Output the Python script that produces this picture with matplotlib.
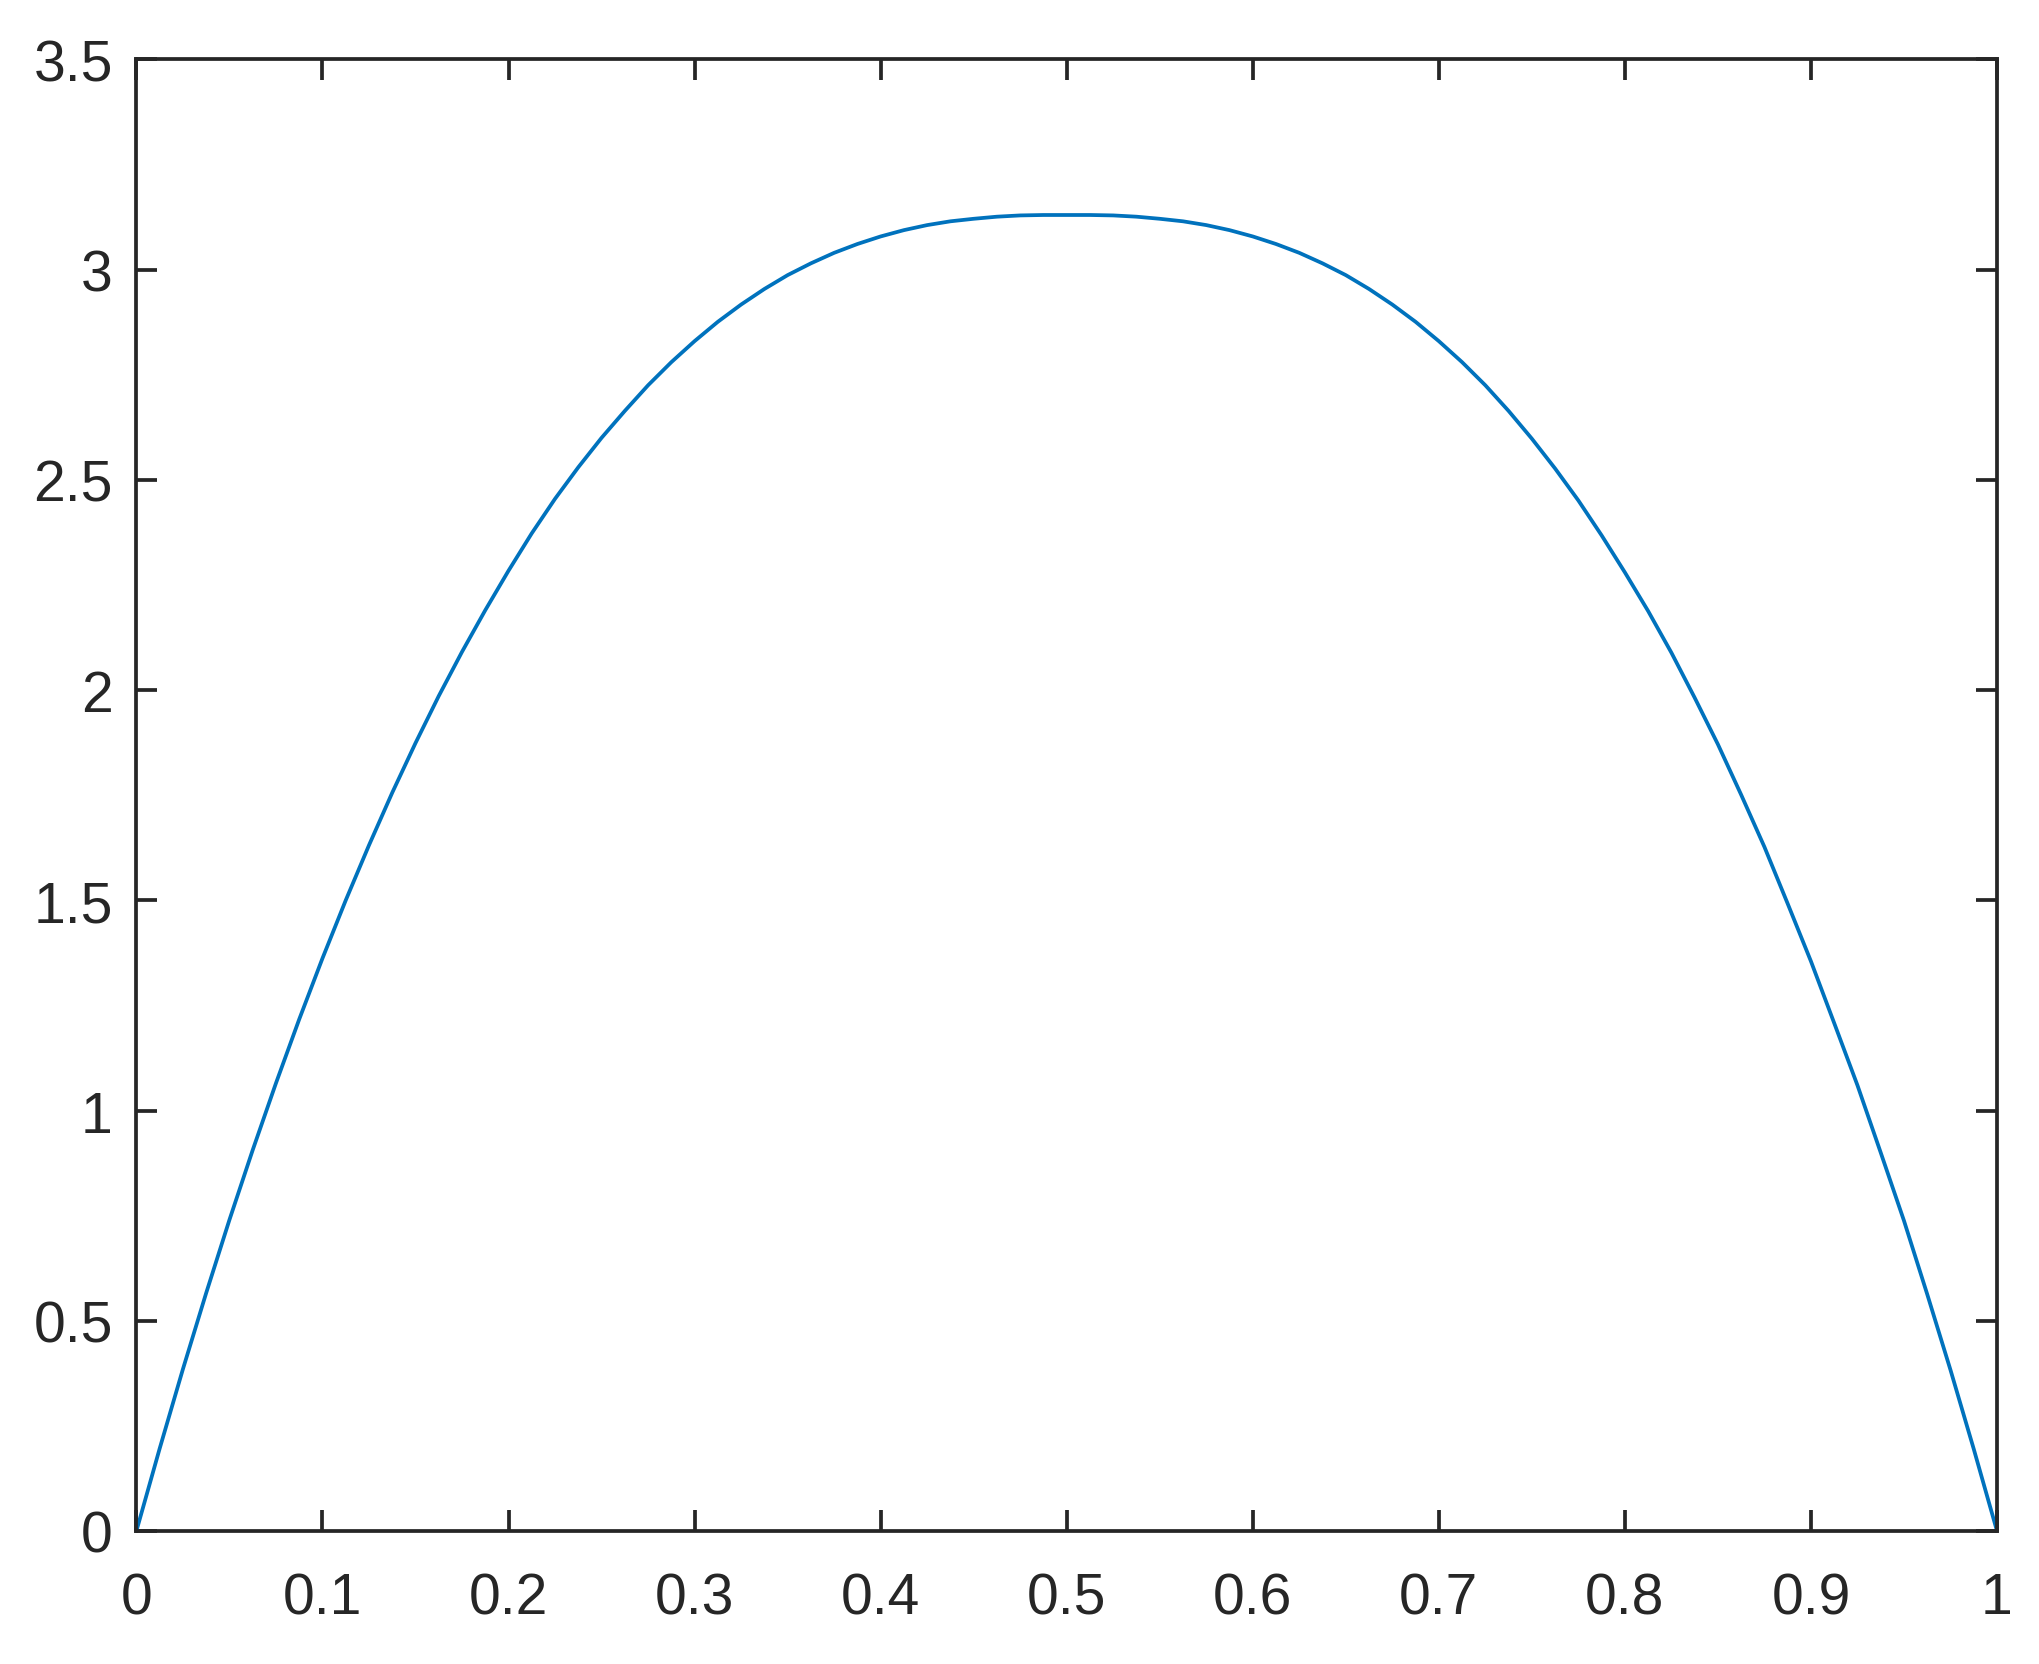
import matplotlib
matplotlib.use("Agg")
import matplotlib.pyplot as plt

# 讀圖估計的數值 (x 每 0.0125 一點)
x = [0, 0.0125, 0.025, 0.0375, 0.05, 0.0625, 0.075, 0.0875, 0.1, 0.1125,
     0.125, 0.1375, 0.15, 0.1625, 0.175, 0.1875, 0.2, 0.2125, 0.225, 0.2375,
     0.25, 0.2625, 0.275, 0.2875, 0.3, 0.3125, 0.325, 0.3375, 0.35, 0.3625,
     0.375, 0.3875, 0.4, 0.4125, 0.425, 0.4375, 0.45, 0.4625, 0.475, 0.4875,
     0.5, 0.5125, 0.525, 0.5375, 0.55, 0.5625, 0.575, 0.5875, 0.6, 0.6125,
     0.625, 0.6375, 0.65, 0.6625, 0.675, 0.6875, 0.7, 0.7125, 0.725, 0.7375,
     0.75, 0.7625, 0.775, 0.7875, 0.8, 0.8125, 0.825, 0.8375, 0.85, 0.8625,
     0.875, 0.8875, 0.9, 0.9125, 0.925, 0.9375, 0.95, 0.9625, 0.975, 0.9875, 1]
y = [0, 0.196, 0.385, 0.566, 0.740, 0.906, 1.065, 1.217, 1.362, 1.500,
     1.631, 1.756, 1.874, 1.986, 2.091, 2.190, 2.284, 2.373, 2.455, 2.530,
     2.600, 2.664, 2.725, 2.780, 2.830, 2.876, 2.917, 2.954, 2.987, 3.015,
     3.040, 3.061, 3.079, 3.094, 3.106, 3.115, 3.121, 3.126, 3.129, 3.130,
     3.130, 3.130, 3.129, 3.126, 3.121, 3.115, 3.106, 3.094, 3.079, 3.061,
     3.040, 3.015, 2.987, 2.954, 2.917, 2.876, 2.830, 2.780, 2.725, 2.664,
     2.598, 2.527, 2.451, 2.368, 2.280, 2.188, 2.089, 1.982, 1.871, 1.751,
     1.627, 1.492, 1.355, 1.208, 1.060, 0.900, 0.738, 0.563, 0.383, 0.195, 0]

xticks = [0, 0.1, 0.2, 0.3, 0.4, 0.5, 0.6, 0.7, 0.8, 0.9, 1]
xticklabels = ['0', '0.1', '0.2', '0.3', '0.4', '0.5', '0.6', '0.7', '0.8', '0.9', '1']
yticks = [0, 0.5, 1, 1.5, 2, 2.5, 3, 3.5]
yticklabels = ['0', '0.5', '1', '1.5', '2', '2.5', '3', '3.5']

plt.rcParams['font.family'] = ['Liberation Sans', 'DejaVu Sans']
axc = '#262626'

fig = plt.figure(figsize=(20.39, 16.65), dpi=100)
ax = fig.add_axes([0.0669, 0.0799, 0.9125, 0.8838])
ax.plot(x, y, color='#0072BD', linewidth=2.7, solid_joinstyle='round')

ax.set_xlim(0, 1)
ax.set_ylim(0, 3.5)
ax.set_xticks(xticks)
ax.set_xticklabels(xticklabels)
ax.set_yticks(yticks)
ax.set_yticklabels(yticklabels)
ax.tick_params(direction='in', length=15, width=2.7, color=axc, labelcolor=axc,
               labelsize=41, top=True, right=True)
ax.tick_params(axis='x', pad=29)
ax.tick_params(axis='y', pad=17)
for s in ax.spines.values():
    s.set_linewidth(2.7)
    s.set_color(axc)

fig.savefig('out.png', dpi=100)
